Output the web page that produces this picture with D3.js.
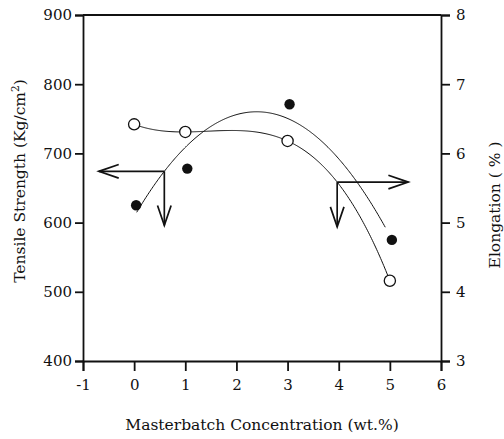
<!DOCTYPE html>
<html>
<head>
<meta charset="utf-8">
<script src="https://cdn.jsdelivr.net/npm/d3@7"></script>
<style>
  html, body { margin: 0; padding: 0; background: #fff; }
  svg { display: block; }
  text { font-family: "DejaVu Serif", "Liberation Serif", serif; fill: #111; }
</style>
</head>
<body>
<svg id="chart" width="504" height="439"></svg>
<script>
// Masterbatch concentration (wt.%)
const concentration = [0, 1, 3, 5];
// Tensile strength (Kg/cm²), left axis, filled markers
const tensileStrength = [625, 678, 771, 575];
// Elongation (%), right axis, open markers
const elongation = [6.42, 6.31, 6.18, 4.16];

const xTicks = [-1, 0, 1, 2, 3, 4, 5, 6];
const leftTicks = [400, 500, 600, 700, 800, 900];
const rightTicks = [3, 4, 5, 6, 7, 8];

// Axis pointers: start on a fitted curve, run horizontally to the axis side, then down
const tensileArrow = { x: 0.59, toX: -0.69, downTo: 596 };
const elongArrow = { x: 3.97, toX: 5.36, downTo: 4.94 };

const svg = d3.select("#chart");
const m = { left: 83, right: 441, top: 15, bottom: 361 };

const x = d3.scaleLinear().domain([-1, 6]).range([m.left, m.right]);
const yL = d3.scaleLinear().domain([400, 900]).range([m.bottom, m.top]);
const yR = d3.scaleLinear().domain([3, 8]).range([m.bottom, m.top]);

// Least-squares polynomial fit of given degree
function polyfit(xs, ys, deg) {
  const n = deg + 1;
  const A = Array.from({ length: n }, () => new Array(n + 1).fill(0));
  for (let r = 0; r < n; r++) {
    for (let c = 0; c < n; c++) A[r][c] = d3.sum(xs, v => Math.pow(v, r + c));
    A[r][n] = d3.sum(xs, (v, i) => ys[i] * Math.pow(v, r));
  }
  for (let i = 0; i < n; i++) {
    let p = i;
    for (let k = i + 1; k < n; k++) if (Math.abs(A[k][i]) > Math.abs(A[p][i])) p = k;
    [A[i], A[p]] = [A[p], A[i]];
    for (let k = i + 1; k < n; k++) {
      const f = A[k][i] / A[i][i];
      for (let j = i; j <= n; j++) A[k][j] -= f * A[i][j];
    }
  }
  const coef = new Array(n).fill(0);
  for (let i = n - 1; i >= 0; i--) {
    let s = A[i][n];
    for (let j = i + 1; j < n; j++) s -= A[i][j] * coef[j];
    coef[i] = s / A[i][i];
  }
  return v => coef.reduce((acc, c, k) => acc + c * Math.pow(v, k), 0);
}

const fitTensile = polyfit(concentration, tensileStrength, 2);
const fitElong = polyfit(concentration, elongation, 3);

const plain = d => String(d);

// Axes
const axisW = 1.8;
svg.append("g")
  .attr("transform", `translate(0,${m.bottom})`)
  .call(d3.axisBottom(x).tickValues(xTicks).tickSize(10).tickPadding(8).tickFormat(plain))
  .call(g => g.selectAll("text").attr("font-size", 15))
  .call(g => g.selectAll("line,path").attr("stroke", "#111").attr("stroke-width", axisW));

svg.append("g")
  .attr("transform", `translate(${m.left},0)`)
  .call(d3.axisLeft(yL).tickValues(leftTicks).tickSize(8).tickPadding(3).tickFormat(plain))
  .call(g => g.selectAll("text").attr("font-size", 15))
  .call(g => g.selectAll("line,path").attr("stroke", "#111").attr("stroke-width", axisW));

svg.append("g")
  .attr("transform", `translate(${m.right},0)`)
  .call(d3.axisRight(yR).tickValues(rightTicks).tickSize(9).tickPadding(6).tickFormat(plain))
  .call(g => g.selectAll("text").attr("font-size", 15))
  .call(g => g.selectAll("line,path").attr("stroke", "#111").attr("stroke-width", axisW));

// Top frame line
svg.append("line")
  .attr("x1", x(-1)).attr("x2", x(6)).attr("y1", yL(900)).attr("y2", yL(900))
  .attr("stroke", "#111").attr("stroke-width", axisW);

// Fitted curves
const line = d3.line().curve(d3.curveLinear);
const tensPts = d3.range(0.05, 4.92, 0.02).map(v => [x(v), yL(fitTensile(v))]);
svg.append("path").attr("d", line(tensPts))
  .attr("fill", "none").attr("stroke", "#111").attr("stroke-width", 1);
const elongPts = d3.range(0, 5.001, 0.02).map(v => [x(v), yR(fitElong(v))]);
svg.append("path").attr("d", line(elongPts))
  .attr("fill", "none").attr("stroke", "#111").attr("stroke-width", 1);

// Arrows with open V heads
function arrow(x0, y0, x1, y1) {
  const g = svg.append("g").attr("stroke", "#111").attr("stroke-width", 1.7).attr("fill", "none");
  g.append("line").attr("x1", x0).attr("y1", y0).attr("x2", x1).attr("y2", y1);
  const ang = Math.atan2(y1 - y0, x1 - x0);
  const len = 21, spread = 0.33;
  const p1 = [x1 - len * Math.cos(ang - spread), y1 - len * Math.sin(ang - spread)];
  const p2 = [x1 - len * Math.cos(ang + spread), y1 - len * Math.sin(ang + spread)];
  g.append("path").attr("d", `M${p1[0]},${p1[1]}L${x1},${y1}L${p2[0]},${p2[1]}`);
}
{
  const cx = x(tensileArrow.x), cy = yL(fitTensile(tensileArrow.x));
  arrow(cx, cy, x(tensileArrow.toX), cy);
  arrow(cx, cy, cx, yL(tensileArrow.downTo));
}
{
  const cx = x(elongArrow.x), cy = yR(fitElong(elongArrow.x));
  arrow(cx, cy, x(elongArrow.toX), cy);
  arrow(cx, cy, cx, yR(elongArrow.downTo));
}

// Markers
svg.append("g").selectAll("circle")
  .data(concentration)
  .join("circle")
  .attr("cx", d => x(d))
  .attr("cy", (d, i) => yR(elongation[i]))
  .attr("r", 5.6)
  .attr("fill", "#fff").attr("stroke", "#111").attr("stroke-width", 1.3);

svg.append("g").selectAll("circle")
  .data(concentration)
  .join("circle")
  .attr("cx", d => x(d) + 2)
  .attr("cy", (d, i) => yL(tensileStrength[i]))
  .attr("r", 5.2)
  .attr("fill", "#111");

// Axis titles
svg.append("text")
  .attr("x", 262).attr("y", 430)
  .attr("text-anchor", "middle").attr("font-size", 15.5)
  .text("Masterbatch Concentration (wt.%)");

svg.append("text")
  .attr("transform", "translate(25,181) rotate(-90)")
  .attr("text-anchor", "middle").attr("font-size", 15.5)
  .html('Tensile Strength (Kg/cm<tspan dy="-6" font-size="10.5">2</tspan><tspan dy="6">)</tspan>');

svg.append("text")
  .attr("transform", "translate(500,205) rotate(-90)")
  .attr("text-anchor", "middle").attr("font-size", 15.5)
  .text("Elongation ( % )");
</script>
</body>
</html>
